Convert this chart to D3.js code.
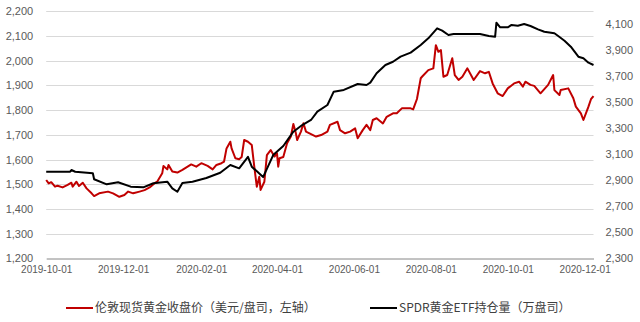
<!DOCTYPE html>
<html><head><meta charset="utf-8">
<script src="https://cdn.jsdelivr.net/npm/d3@7"></script>
<style>
html,body{margin:0;padding:0;background:#fff;}
svg{display:block;}
</style></head>
<body>
<svg id="chart" width="640" height="322"></svg>
<script>
const xTickLabels = ["2019-10-01","2019-12-01","2020-02-01","2020-04-01","2020-06-01","2020-08-01","2020-10-01","2020-12-01"];
const leftTicks = [1200,1300,1400,1500,1600,1700,1800,1900,2000,2100,2200];
const rightTicks = [2300,2500,2700,2900,3100,3300,3500,3700,3900,4100];
const seriesNames = ["伦敦现货黄金收盘价（美元/盘司，左轴）","SPDR黄金ETF持仓量（万盘司）"];

const goldDates = ["2019-10-01","2019-10-03","2019-10-05","2019-10-08","2019-10-10","2019-10-14","2019-10-18","2019-10-21","2019-10-22","2019-10-25","2019-10-27","2019-10-30","2019-11-02","2019-11-06","2019-11-08","2019-11-12","2019-11-19","2019-11-23","2019-11-28","2019-12-02","2019-12-05","2019-12-09","2019-12-14","2019-12-18","2019-12-22","2019-12-26","2019-12-28","2020-01-01","2020-01-02","2020-01-05","2020-01-06","2020-01-09","2020-01-13","2020-01-17","2020-01-24","2020-01-28","2020-02-01","2020-02-06","2020-02-10","2020-02-13","2020-02-17","2020-02-19","2020-02-21","2020-02-24","2020-02-25","2020-02-28","2020-03-02","2020-03-04","2020-03-06","2020-03-09","2020-03-12","2020-03-14","2020-03-16","2020-03-18","2020-03-19","2020-03-22","2020-03-24","2020-03-27","2020-03-30","2020-04-01","2020-04-02","2020-04-03","2020-04-06","2020-04-09","2020-04-12","2020-04-14","2020-04-16","2020-04-17","2020-04-20","2020-04-22","2020-04-24","2020-04-28","2020-05-02","2020-05-06","2020-05-11","2020-05-13","2020-05-19","2020-05-21","2020-05-25","2020-05-29","2020-06-02","2020-06-04","2020-06-08","2020-06-11","2020-06-14","2020-06-16","2020-06-19","2020-06-24","2020-06-27","2020-07-02","2020-07-05","2020-07-09","2020-07-16","2020-07-18","2020-07-21","2020-07-24","2020-07-25","2020-07-30","2020-08-03","2020-08-05","2020-08-07","2020-08-09","2020-08-11","2020-08-14","2020-08-18","2020-08-20","2020-08-23","2020-08-26","2020-08-30","2020-09-04","2020-09-09","2020-09-13","2020-09-16","2020-09-19","2020-09-23","2020-09-27","2020-10-01","2020-10-06","2020-10-10","2020-10-13","2020-10-15","2020-10-19","2020-10-22","2020-10-27","2020-11-02","2020-11-06","2020-11-07","2020-11-11","2020-11-12","2020-11-18","2020-11-22","2020-11-24","2020-11-28","2020-11-30","2020-12-04","2020-12-06","2020-12-08"];
const goldValues = [1517,1503,1508,1490,1494,1487,1497,1506,1490,1510,1493,1506,1483,1463,1452,1463,1470,1463,1449,1456,1470,1463,1470,1476,1487,1504,1510,1544,1574,1560,1578,1551,1547,1558,1580,1571,1585,1574,1560,1578,1585,1591,1645,1672,1645,1605,1601,1610,1679,1672,1659,1571,1490,1530,1477,1510,1618,1638,1612,1625,1571,1605,1610,1666,1693,1744,1706,1679,1713,1747,1713,1703,1693,1699,1713,1740,1753,1719,1706,1713,1726,1686,1719,1740,1719,1760,1767,1746,1773,1787,1787,1807,1807,1803,1845,1929,1935,1962,1969,2063,2036,2043,1935,1942,2010,1942,1922,1935,1969,1922,1958,1949,1955,1908,1868,1857,1888,1908,1915,1895,1915,1902,1898,1868,1902,1942,1881,1861,1881,1888,1848,1814,1787,1760,1814,1844,1857];

const etfDates = ["2019-10-01","2019-10-20","2019-10-21","2019-10-24","2019-11-07","2019-11-08","2019-11-18","2019-11-27","2019-12-07","2019-12-17","2019-12-25","2020-01-05","2020-01-09","2020-01-13","2020-01-17","2020-01-25","2020-02-05","2020-02-16","2020-02-24","2020-03-02","2020-03-09","2020-03-12","2020-03-21","2020-03-29","2020-04-06","2020-04-14","2020-04-21","2020-04-28","2020-05-03","2020-05-11","2020-05-16","2020-05-24","2020-06-04","2020-06-11","2020-06-14","2020-06-19","2020-06-26","2020-07-02","2020-07-08","2020-07-16","2020-07-24","2020-07-30","2020-08-06","2020-08-10","2020-08-15","2020-08-19","2020-09-09","2020-09-16","2020-09-21","2020-09-22","2020-09-25","2020-10-01","2020-10-04","2020-10-09","2020-10-14","2020-10-19","2020-10-25","2020-10-30","2020-11-07","2020-11-10","2020-11-15","2020-11-20","2020-11-26","2020-11-30","2020-12-04","2020-12-08"];
const etfValues = [2966,2966,2979,2966,2954,2908,2869,2885,2851,2846,2877,2889,2838,2812,2879,2889,2918,2958,3018,2992,3081,3005,2925,3094,3164,3274,3325,3364,3428,3479,3582,3595,3641,3633,3651,3723,3787,3812,3851,3882,3941,3992,4069,4051,4018,4025,4025,4010,4005,4112,4077,4077,4095,4089,4102,4087,4061,4043,4031,4010,3974,3928,3851,3839,3805,3787];

const parse = d3.timeParse("%Y-%m-%d");
const gold = goldDates.map((d,i)=>({date:parse(d), value:goldValues[i]}));
const etf = etfDates.map((d,i)=>({date:parse(d), value:etfValues[i]}));

const svg = d3.select("#chart");
const pLeft = 46.2, pRight = 593.5, pTop = 11.3, pBottom = 258.3;

const x = d3.scaleTime().domain([parse("2019-10-01"), parse("2020-12-08")]).range([pLeft, pRight]);
const yL = d3.scaleLinear().domain([1200,2200]).range([pBottom, pTop]);
const yR = d3.scaleLinear().domain([2300,4200]).range([pBottom, pTop]);

// gridlines
svg.append("g").selectAll("line").data(leftTicks.slice(1)).join("line")
  .attr("x1", pLeft).attr("x2", pRight)
  .attr("y1", d=>Math.round(yL(d))+0.5).attr("y2", d=>Math.round(yL(d))+0.5)
  .attr("stroke", "#d9d9d9").attr("stroke-width", 1);

// left axis
const axL = svg.append("g").attr("transform", `translate(${pLeft},0)`)
  .call(d3.axisLeft(yL).tickValues(leftTicks).tickSize(0).tickPadding(13).tickFormat(d3.format(",")));
axL.select(".domain").remove();
axL.selectAll("text").attr("font-family","Liberation Sans, Arial, sans-serif").attr("font-size","11px").attr("fill","#595959");

// right axis
const axR = svg.append("g").attr("transform", `translate(${pRight},0)`)
  .call(d3.axisRight(yR).tickValues(rightTicks).tickSize(0).tickPadding(12).tickFormat(d3.format(",")));
axR.select(".domain").remove();
axR.selectAll("text").attr("font-family","Liberation Sans, Arial, sans-serif").attr("font-size","11px").attr("fill","#595959");

// bottom axis
const axB = svg.append("g").attr("transform", `translate(0,${Math.round(pBottom)+0.5})`)
  .call(d3.axisBottom(x).tickValues(xTickLabels.map(parse)).tickSize(0).tickPadding(7).tickFormat(d3.timeFormat("%Y-%m-%d")));
axB.select(".domain").attr("stroke","#868686").attr("stroke-width",1);
axB.selectAll("text").attr("font-family","Liberation Sans, Arial, sans-serif").attr("font-size","10px").attr("fill","#595959");

// lines
const lineL = d3.line().x(d=>x(d.date)).y(d=>yL(d.value));
const lineR = d3.line().x(d=>x(d.date)).y(d=>yR(d.value));
svg.append("path").datum(gold).attr("d", lineL).attr("fill","none").attr("stroke","#c00000").attr("stroke-width",2).attr("stroke-linejoin","round");
svg.append("path").datum(etf).attr("d", lineR).attr("fill","none").attr("stroke","#000000").attr("stroke-width",2).attr("stroke-linejoin","round");

// legend
const legend = [{name:seriesNames[0], color:"#c00000", x:66},{name:seriesNames[1], color:"#000000", x:370}];
const lg = svg.append("g").selectAll("g").data(legend).join("g").attr("transform", d=>`translate(${d.x},308)`);
lg.append("line").attr("x1",0).attr("x2",27).attr("y1",0).attr("y2",0).attr("stroke",d=>d.color).attr("stroke-width",2);
lg.append("text").attr("x",29).attr("y",0).attr("dy","0.35em").text(d=>d.name)
  .attr("font-family","Noto Sans CJK SC, sans-serif").attr("font-size","12px").attr("fill","#404040");
</script>
</body></html>
